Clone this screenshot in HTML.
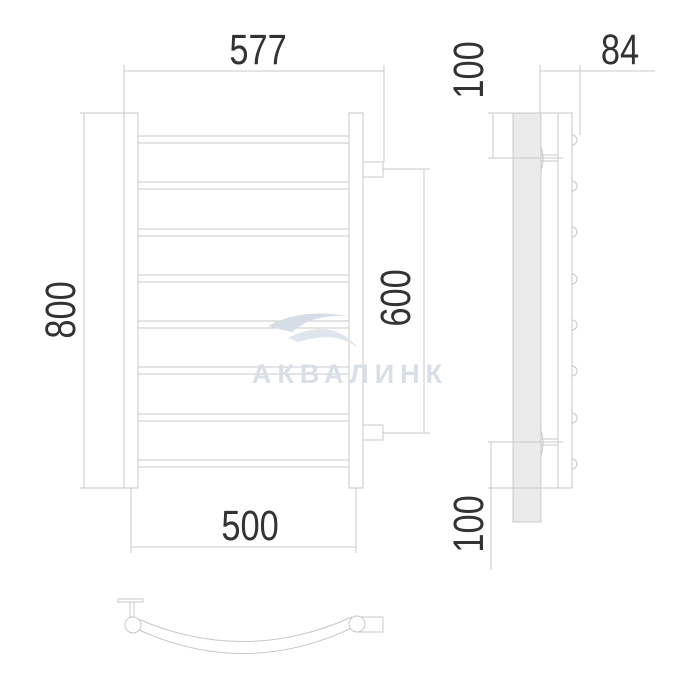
<!DOCTYPE html>
<html><head><style>body{margin:0;background:#fff}svg{display:block}</style></head><body>
<svg width="700" height="700" viewBox="0 0 700 700" xmlns="http://www.w3.org/2000/svg" font-family="Liberation Sans, sans-serif">
<g fill="none" stroke="#c8c8c8" stroke-width="1">
<rect x="124" y="113" width="14" height="375" fill="#fff"/>
<rect x="349" y="113" width="14" height="375" fill="#fff"/>
<g>
<line x1="138" y1="136" x2="349" y2="136"/><line x1="138" y1="143" x2="349" y2="143"/>
<line x1="138" y1="182" x2="349" y2="182"/><line x1="138" y1="189" x2="349" y2="189"/>
<line x1="138" y1="229" x2="349" y2="229"/><line x1="138" y1="236" x2="349" y2="236"/>
<line x1="138" y1="275" x2="349" y2="275"/><line x1="138" y1="282" x2="349" y2="282"/>
<line x1="138" y1="321" x2="349" y2="321"/><line x1="138" y1="328" x2="349" y2="328"/>
<line x1="138" y1="367" x2="349" y2="367"/><line x1="138" y1="374" x2="349" y2="374"/>
<line x1="138" y1="414" x2="349" y2="414"/><line x1="138" y1="421" x2="349" y2="421"/>
<line x1="138" y1="460" x2="349" y2="460"/><line x1="138" y1="467" x2="349" y2="467"/>
</g>
<rect x="363" y="162" width="20" height="15"/>
<rect x="363" y="425" width="20" height="15"/>
<line x1="124" y1="65" x2="124" y2="113"/><line x1="384" y1="65" x2="384" y2="162"/>
<line x1="124" y1="71" x2="384" y2="71"/>
<line x1="80" y1="113" x2="124" y2="113"/><line x1="80" y1="488" x2="124" y2="488"/>
<line x1="84" y1="113" x2="84" y2="488"/>
<line x1="131" y1="488" x2="131" y2="553"/><line x1="356" y1="488" x2="356" y2="553"/>
<line x1="131" y1="547" x2="356" y2="547"/>
<line x1="383" y1="169" x2="430" y2="169"/><line x1="383" y1="433" x2="430" y2="433"/>
<line x1="424" y1="169" x2="424" y2="433"/>
<rect x="513" y="113" width="28" height="409" fill="#ebebeb"/>
<rect x="558" y="113" width="14" height="375"/>
<line x1="541" y1="113" x2="558" y2="113"/>
<line x1="488" y1="113" x2="513" y2="113"/>
<line x1="488" y1="158" x2="563" y2="158"/>
<line x1="488" y1="442" x2="563" y2="442"/>
<line x1="488" y1="488" x2="558" y2="488"/>
<line x1="493" y1="113" x2="493" y2="158"/>
<line x1="491" y1="442" x2="491" y2="570"/>
<line x1="541" y1="155" x2="558" y2="155"/><line x1="541" y1="161" x2="558" y2="161"/>
<line x1="541" y1="439" x2="558" y2="439"/><line x1="541" y1="445" x2="558" y2="445"/>
<path d="M541 147 Q545 158 541 170"/><path d="M541 431 Q545 442 541 455"/>
<g>
<path d="M572 135 a5 5 0 0 1 0 10"/><path d="M572 181 a5 5 0 0 1 0 10"/>
<path d="M572 227 a5 5 0 0 1 0 10"/><path d="M572 274 a5 5 0 0 1 0 10"/>
<path d="M572 320 a5 5 0 0 1 0 10"/><path d="M572 366 a5 5 0 0 1 0 10"/>
<path d="M572 413 a5 5 0 0 1 0 10"/><path d="M572 459 a5 5 0 0 1 0 10"/>
</g>
<line x1="540" y1="65" x2="540" y2="113"/><line x1="580" y1="65" x2="580" y2="135"/>
<line x1="540" y1="71" x2="655" y2="71"/>
<rect x="118" y="599" width="25" height="3"/>
<rect x="130" y="602" width="4" height="15"/>
<path d="M138 619 Q245 665 352 617"/>
<path d="M139 630 Q245 678 352 628"/>
<rect x="357" y="617" width="26" height="15"/>
<circle cx="133" cy="625" r="8" fill="#fff"/>
<circle cx="357" cy="624" r="8" fill="#fff"/>
</g>
<path d="M268 326 Q300 308 348 316 Q312 314 292 332 Q282 330 268 326Z" fill="#d5dde7"/>
<path d="M288 338 Q332 316 358 348 Q336 330 298 342Z" fill="#dfe5ec"/>
<text x="350" y="383" text-anchor="middle" font-size="27" font-weight="bold" fill="#d8dfe8" letter-spacing="6">АКВАЛИНК</text>
<g fill="#333" font-size="43">
<text transform="translate(258,64) scale(0.8,1)" text-anchor="middle">577</text>
<text transform="translate(250,540) scale(0.8,1)" text-anchor="middle">500</text>
<text transform="translate(620,64) scale(0.8,1)" text-anchor="middle">84</text>
<text transform="translate(75,310) rotate(-90) scale(0.8,1)" text-anchor="middle">800</text>
<text transform="translate(410,298) rotate(-90) scale(0.8,1)" text-anchor="middle">600</text>
<text transform="translate(483,70) rotate(-90) scale(0.8,1)" text-anchor="middle">100</text>
<text transform="translate(483,524) rotate(-90) scale(0.8,1)" text-anchor="middle">100</text>
</g>
</svg>
</body></html>
